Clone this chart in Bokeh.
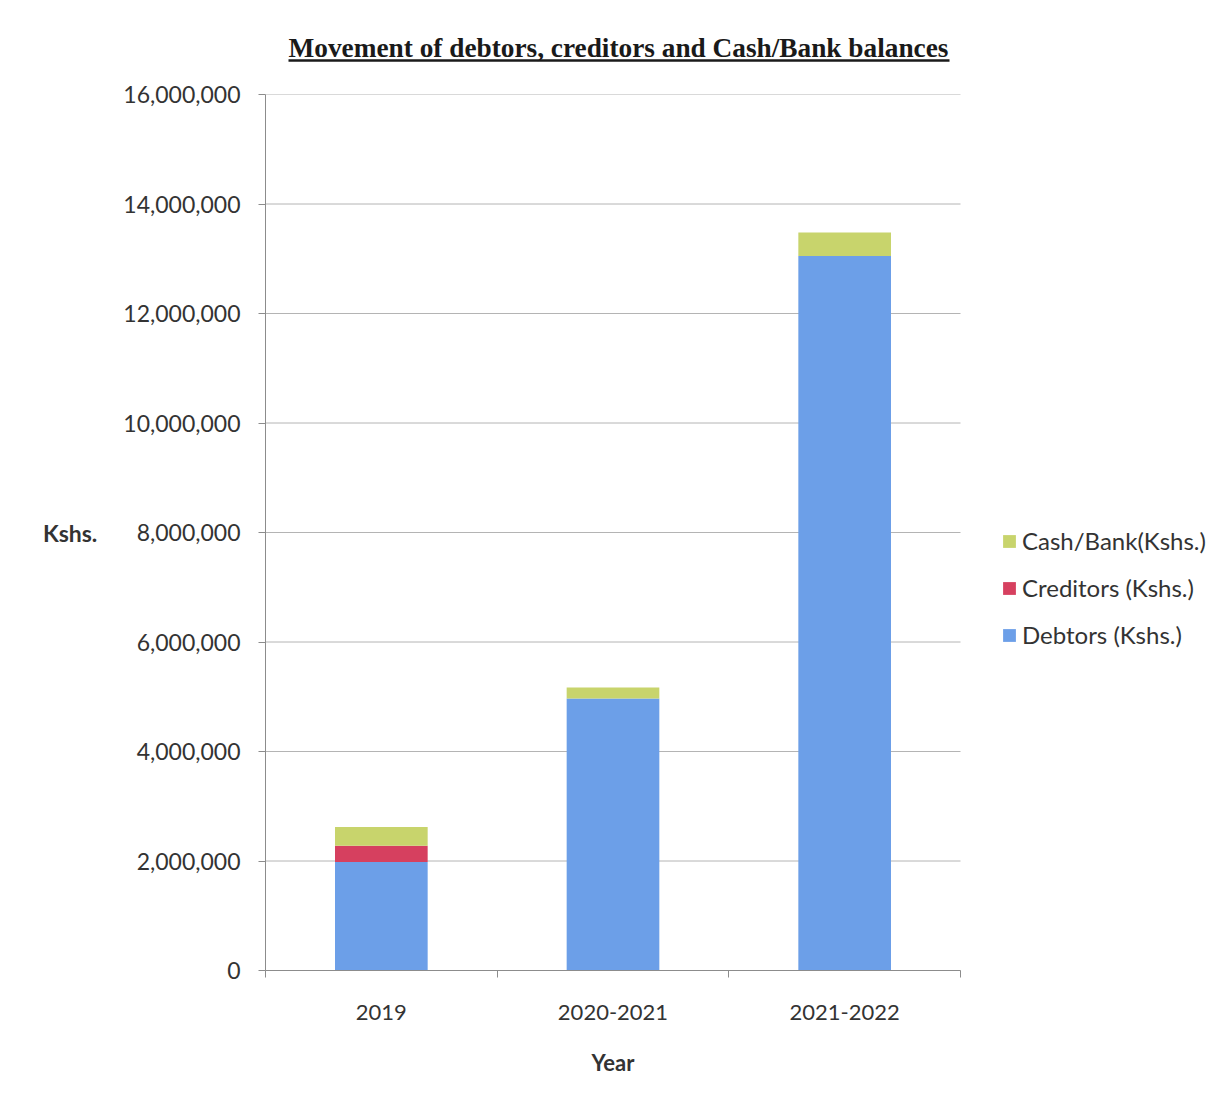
import numpy as np
from bokeh.plotting import figure
from bokeh.models import (ColumnDataSource, Range1d, FixedTicker, NumeralTickFormatter,
                          Legend, LegendItem, LinearAxis)
from bokeh.layouts import column
from bokeh.embed import file_html
from bokeh.resources import INLINE
from bokeh.core.properties import value

# ---- data ----
years = ["2019", "2020-2021", "2021-2022"]
debtors = [1980000, 4970000, 13050000]
creditors = [300000, 0, 0]
cash_bank = [340000, 200000, 430000]
series_names = ["Debtors (Kshs.)", "Creditors (Kshs.)", "Cash/Bank(Kshs.)"]
colors = ["#6c9fe8", "#d6405f", "#c8d46c"]
y_ticks = [0, 2000000, 4000000, 6000000, 8000000, 10000000, 12000000, 14000000, 16000000]

TITLE = "Movement of debtors, creditors and Cash/Bank balances"
X_TITLE = "Year"
Y_TITLE = "Kshs."
W = 1219
LABEL_FONT = "Lato"
FRAME_L, PLOT_R, FRAME_R = 265, 960, 1214      # plotting area ends at PLOT_R; frame extends for the legend
x_end = len(years) * (FRAME_R - FRAME_L) / (PLOT_R - FRAME_L)


def strip_fig(h):
    f = figure(width=W, height=h, x_range=Range1d(FRAME_L, FRAME_R), y_range=Range1d(0, h),
               output_backend="svg", toolbar_location=None, min_border=0,
               x_axis_type=None, y_axis_type=None)
    f.grid.visible = False
    f.outline_line_color = None
    return f


# ---- title strip (with underline); its frame is aligned with the main frame ----
tf = strip_fig(78)
tf.text(x=[618], y=[31], text=[TITLE], text_font=value("Liberation Serif"),
        text_font_style="bold", text_font_size="27.3px", text_align="center",
        text_baseline="middle", text_color="#1a1a1a")
tf.segment(x0=[288], y0=[18], x1=[949], y1=[18], line_color="#1a1a1a", line_width=2.5)

# ---- main figure ----
pos = (np.arange(len(years)) + 0.5).tolist()
src = ColumnDataSource(dict(x=pos, debtors=debtors, creditors=creditors, cash=cash_bank))

p = figure(width=W, height=954, x_range=Range1d(0, x_end), y_range=Range1d(0, 16000000),
           output_backend="svg", toolbar_location=None,
           min_border_left=FRAME_L, min_border_right=W - FRAME_R, min_border_top=16,
           min_border_bottom=62, x_axis_type=None)
p.outline_line_color = None
p.xgrid.visible = False
p.ygrid.visible = False

# horizontal gridlines only across the plotting area
p.segment(x0=[0] * len(y_ticks), x1=[len(years)] * len(y_ticks), y0=y_ticks, y1=y_ticks,
          line_color="#b4b4b4", line_width=1)

rs = p.vbar_stack(["debtors", "creditors", "cash"], x="x", width=0.4, color=colors,
                  line_color=None, source=src)

# y axis
p.yaxis.ticker = FixedTicker(ticks=y_ticks)
p.yaxis.formatter = NumeralTickFormatter(format="0,0")
p.yaxis.major_label_text_font = LABEL_FONT
p.yaxis.major_label_text_font_size = "23px"
p.yaxis.major_label_text_color = "#333333"
p.yaxis.major_tick_out = 7
p.yaxis.major_tick_in = 0
p.yaxis.minor_tick_line_color = None
p.yaxis.major_label_standoff = 18
p.yaxis.axis_line_color = "#8c8c8c"
p.yaxis.major_tick_line_color = "#8c8c8c"
p.yaxis.axis_label = Y_TITLE
p.yaxis.axis_label_orientation = "horizontal"
p.yaxis.axis_label_text_font = LABEL_FONT
p.yaxis.axis_label_text_font_size = "23px"
p.yaxis.axis_label_text_font_style = "bold"
p.yaxis.axis_label_text_color = "#333333"
p.yaxis.axis_label_standoff = 23

# x axis: labels at bar centres, tick marks at category boundaries
xa = LinearAxis(ticker=FixedTicker(ticks=pos, minor_ticks=list(range(len(years) + 1))),
                bounds=(0, len(years)))
xa.major_label_overrides = {pv: yr for pv, yr in zip(pos, years)}
xa.major_tick_line_color = None
xa.major_tick_out = 0
xa.major_tick_in = 0
xa.minor_tick_out = 7
xa.minor_tick_in = 0
xa.minor_tick_line_color = "#8c8c8c"
xa.axis_line_color = "#8c8c8c"
xa.major_label_standoff = 27
xa.major_label_text_font = LABEL_FONT
xa.major_label_text_font_size = "22px"
xa.major_label_text_color = "#333333"
p.add_layout(xa, "below")

legend = Legend(items=[LegendItem(label=n, renderers=[r]) for n, r in zip(series_names, rs)][::-1],
                location=(736, 321), padding=5, margin=0, border_line_color=None,
                background_fill_alpha=0, glyph_width=16, glyph_height=16, label_standoff=5,
                spacing=18, label_text_font=LABEL_FONT, label_text_font_size="24px",
                label_text_color="#333333")
p.add_layout(legend, "center")

# ---- x-axis title strip, centred under the plotting area ----
bf = strip_fig(60)
bf.text(x=[(FRAME_L + PLOT_R) / 2], y=[30], text=[X_TITLE], text_font=value(LABEL_FONT),
        text_font_style="bold", text_font_size="22px", text_align="center",
        text_baseline="middle", text_color="#333333")

layout = column(tf, p, bf, spacing=0)
open("out.html", "w").write(file_html(layout, INLINE))
